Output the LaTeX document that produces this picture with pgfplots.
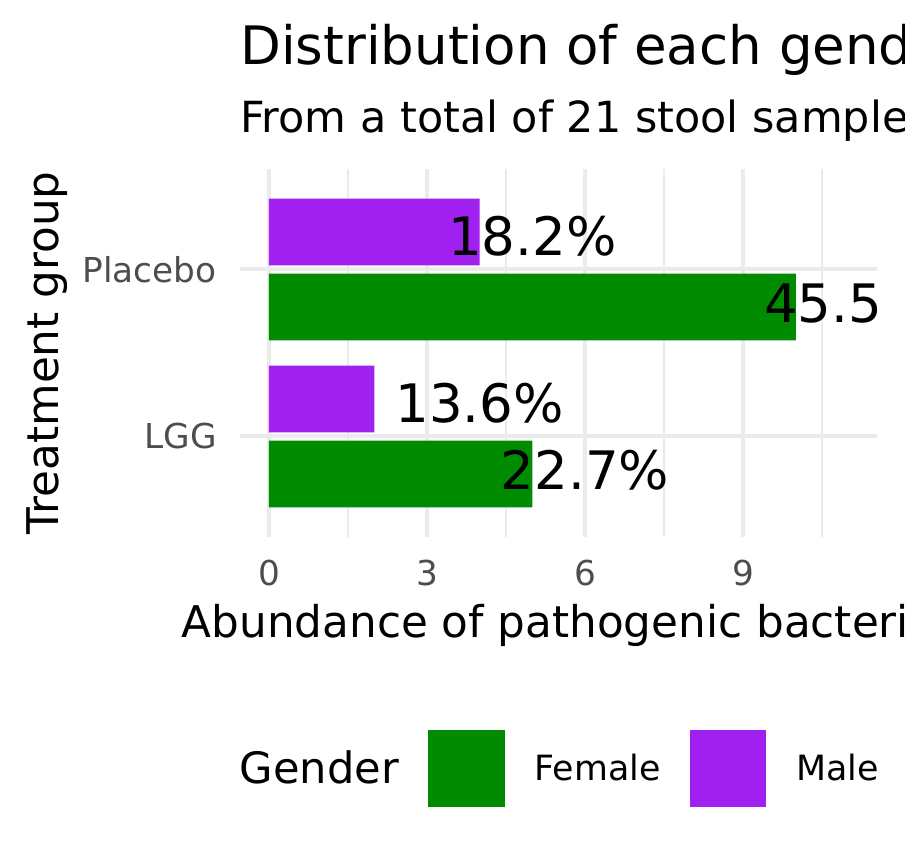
\documentclass[border=0pt]{standalone}
\usepackage{pgfplots}
\pgfplotsset{compat=1.18}
\usepackage{fontspec}
\setmainfont{DejaVu Sans}
\definecolor{female}{HTML}{008B00}
\definecolor{male}{HTML}{A020F0}
\definecolor{grid92}{HTML}{EBEBEB}
\definecolor{tick30}{HTML}{4D4D4D}

\begin{document}
\begin{tikzpicture}
\useasboundingbox (0,0) rectangle (452.5bp,432bp);
\clip (0,0) rectangle (452.5bp,432bp);
\begin{axis}[
  at={(120bp,163.65bp)}, anchor=south west,
  scale only axis, width=318.7bp, height=183.7bp,
  xmin=-0.55, xmax=11.55, ymin=0.4, ymax=2.6,
  axis line style={draw=none},
  major tick length=0pt, minor tick length=0pt,
  xtick={0,3,6,9}, minor xtick={1.5,4.5,7.5,10.5},
  ytick={1,2}, yticklabels={LGG,Placebo},
  xmajorgrids, xminorgrids, ymajorgrids,
  major grid style={grid92, line width=2bp},
  minor grid style={grid92, line width=1.3bp},
  /pgf/number format/assume math mode=true,
  ticklabel style={font=\fontsize{17.15bp}{20bp}\selectfont, text=tick30, inner sep=0pt},
  xticklabel style={anchor=base, yshift=-24.65bp},
  yticklabel style={anchor=east, xshift=-11.5bp},
  xlabel={Abundance of pathogenic bacteria},
  ylabel={Treatment group},
  label style={font=\fontsize{21.85bp}{25bp}\selectfont, inner sep=0pt},
  xlabel style={at={(axis description cs:0.5,-0.2738)}, anchor=base},
  ylabel style={at={(axis description cs:-0.2851,0.5)}, anchor=base},
  clip marker paths=true,
  legend columns=-1,
  legend style={at={(axis description cs:-0.0486,-0.6306)}, anchor=west,
    draw=none, fill=none, inner sep=0pt, outer sep=0pt,
    nodes={inner sep=0pt, anchor=west},
    font=\fontsize{17.4bp}{20bp}\selectfont,
    /tikz/every odd column/.style={column sep=15bp},
    /tikz/every even column/.style={column sep=14.5bp}},
]
\addlegendimage{legend image code/.code={\path (0,0);}}
\addlegendentry{\fontsize{21.6bp}{25bp}\selectfont Gender}

% Female bars
\addplot[xbar, fill=female, draw=none, bar width=0.4, bar shift=-0.225,
  legend image code/.code={\fill[female] (0bp,-19.175bp) rectangle (38.35bp,19.175bp);}]
  coordinates {(10,2) (5,1)};
\addlegendentry{Female}

% Male bars
\addplot[xbar, fill=male, draw=none, bar width=0.4, bar shift=0.225,
  legend image code/.code={\fill[male] (0bp,-19.175bp) rectangle (38.35bp,19.175bp);}]
  coordinates {(4,2) (2,1)};
\addlegendentry{Male}

% percentage labels
\addplot[forget plot, only marks, mark=*, mark size=0pt, mark options={draw=none, fill=none},
  nodes near coords, point meta=explicit symbolic,
  nodes near coords style={anchor=base, inner sep=0pt, text=black,
    font=\fontsize{26.5bp}{30bp}\selectfont}]
  coordinates {(5,2.084)[18.2\%] (11,1.684)[45.5\%] (4,1.085)[13.6\%] (6,0.684)[22.7\%]};
\end{axis}
\node[anchor=base west, inner sep=0pt, font=\fontsize{26.5bp}{30bp}\selectfont]
  at (120bp,399.5bp) {Distribution of each gender};
\node[anchor=base west, inner sep=0pt, font=\fontsize{21.45bp}{25bp}\selectfont]
  at (120bp,365.85bp) {From a total of 21 stool samples};
\end{tikzpicture}
\end{document}
